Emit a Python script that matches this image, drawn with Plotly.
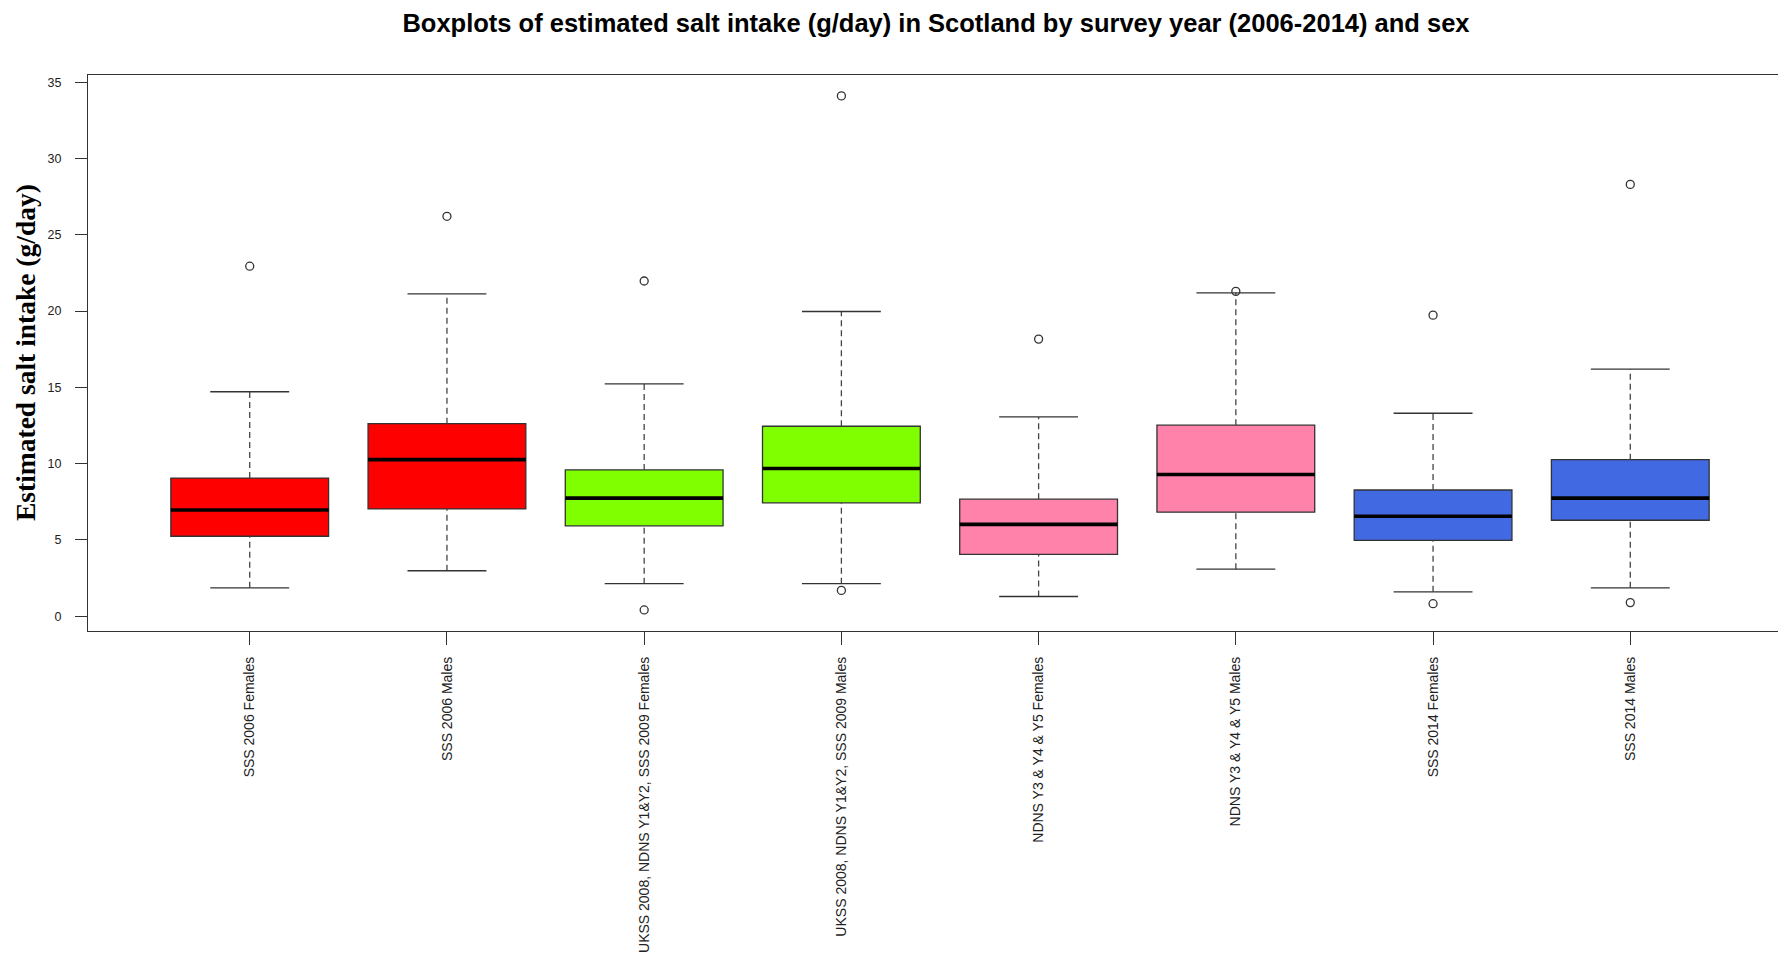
import plotly.graph_objects as go

# Survey groups and their colours
labels = [
    "SSS 2006 Females",
    "SSS 2006 Males",
    "UKSS 2008, NDNS Y1&Y2, SSS 2009 Females",
    "UKSS 2008, NDNS Y1&Y2, SSS 2009 Males",
    "NDNS Y3 & Y4 & Y5 Females",
    "NDNS Y3 & Y4 & Y5 Males",
    "SSS 2014 Females",
    "SSS 2014 Males",
]
colors = ["#FF0000", "#FF0000", "#7FFF00", "#7FFF00",
          "#FF82AB", "#FF82AB", "#4169E1", "#4169E1"]

# Five-number summaries of estimated salt intake (g/day)
lower_whisker = [1.86, 2.98, 2.13, 2.13, 1.29, 3.08, 1.60, 1.86]
q1 = [5.24, 7.03, 5.92, 7.43, 4.05, 6.82, 4.97, 6.29]
median = [6.96, 10.26, 7.74, 9.68, 6.02, 9.29, 6.55, 7.74]
q3 = [9.05, 12.62, 9.59, 12.45, 7.67, 12.52, 8.27, 10.26]
upper_whisker = [14.71, 21.12, 15.22, 19.97, 13.06, 21.19, 13.30, 16.19]
outliers = [[22.94], [26.21], [21.97, 0.41], [34.10, 1.69],
            [18.16], [21.29], [19.73, 0.82], [28.30, 0.89]]

positions = list(range(1, len(labels) + 1))
BOX_W = 0.8
CAP_W = 0.4
EDGE = "#333333"
FONT = "Liberation Sans, Arial, sans-serif"

fig = go.Figure()

# dashed whiskers
wx, wy = [], []
for p, lo, a, b, hi in zip(positions, lower_whisker, q1, q3, upper_whisker):
    wx += [p, p, None, p, p, None]
    wy += [b, hi, None, lo, a, None]
fig.add_trace(go.Scatter(x=wx, y=wy, mode="lines",
                         line=dict(color="#444444", width=1.3, dash="6px,4px"),
                         hoverinfo="skip", showlegend=False))

# whisker caps
cx, cy = [], []
for p, lo, hi in zip(positions, lower_whisker, upper_whisker):
    for v in (lo, hi):
        cx += [p - CAP_W / 2, p + CAP_W / 2, None]
        cy += [v, v, None]
fig.add_trace(go.Scatter(x=cx, y=cy, mode="lines",
                         line=dict(color=EDGE, width=1.3),
                         hoverinfo="skip", showlegend=False))

# boxes
for p, a, m, b, col, name in zip(positions, q1, median, q3, colors, labels):
    fig.add_trace(go.Box(x=[p], q1=[a], median=[m], q3=[b],
                         lowerfence=[a], upperfence=[b],
                         width=BOX_W, fillcolor=col, name=name,
                         line=dict(color=EDGE, width=1.3),
                         boxpoints=False, showlegend=False))

# thick median bars
mx, my = [], []
for p, m in zip(positions, median):
    mx += [p - BOX_W / 2, p + BOX_W / 2, None]
    my += [m, m, None]
fig.add_trace(go.Scatter(x=mx, y=my, mode="lines",
                         line=dict(color="#000000", width=3.6),
                         hoverinfo="skip", showlegend=False))

# outliers
ox, oy = [], []
for p, pts in zip(positions, outliers):
    for v in pts:
        ox.append(p)
        oy.append(v)
fig.add_trace(go.Scatter(x=ox, y=oy, mode="markers",
                         marker=dict(symbol="circle-open", size=8,
                                     color=EDGE, line=dict(width=1.3)),
                         showlegend=False))

fig.update_layout(
    width=1778, height=957,
    margin=dict(l=88, r=0, t=75, b=326),
    paper_bgcolor="white", plot_bgcolor="white",
    font=dict(family=FONT, color="#222222"),
    title=dict(text="<b>Boxplots of estimated salt intake (g/day) in Scotland by survey year (2006-2014) and sex</b>",
               font=dict(family=FONT, size=25.5, color="#000000"),
               xref="container", x=936 / 1778, xanchor="center",
               yref="container", y=1 - 23 / 957, yanchor="middle"),
    showlegend=False,
)

fig.update_xaxes(
    range=[0.18, 8.749], tickmode="array", tickvals=positions, ticktext=labels,
    tickangle=-90, ticks="outside", ticklen=13, tickcolor=EDGE, tickwidth=1.3,
    tickfont=dict(family=FONT, size=14, color="#222222"),
    showline=True, mirror=True, linecolor=EDGE, linewidth=1.3,
    showgrid=False, zeroline=False, automargin=False, ticklabelstandoff=6,
)
fig.update_yaxes(
    range=[-0.97, 35.47], tickvals=[0, 5, 10, 15, 20, 25, 30, 35],
    ticks="outside", ticklen=12, tickcolor=EDGE, tickwidth=1.3,
    tickfont=dict(family=FONT, size=12.5, color="#222222"),
    showline=True, mirror=False, linecolor=EDGE, linewidth=1.3,
    showgrid=False, zeroline=False, automargin=False, ticklabelstandoff=11,
)

fig.add_annotation(
    text="<b>Estimated salt intake (g/day)</b>", textangle=-90,
    xref="paper", x=(25 - 88) / 1690, xanchor="center",
    yref="paper", y=0.5, yanchor="middle", showarrow=False,
    font=dict(family="Liberation Serif, Times New Roman, serif", size=27.5, color="#000000"),
)

fig.write_html("out.html")
